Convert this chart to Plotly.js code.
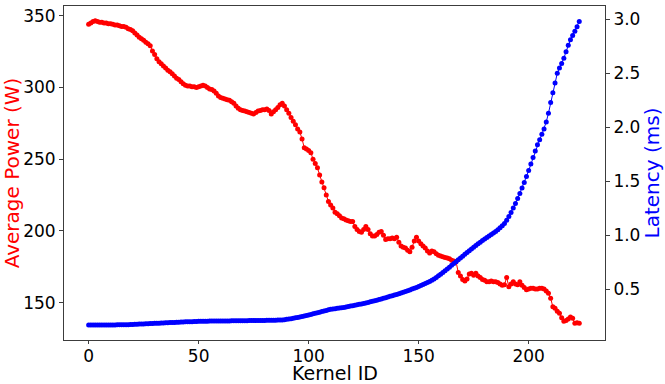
<!DOCTYPE html>
<html>
<head>
<meta charset="utf-8">
<script src="https://cdn.plot.ly/plotly-3.0.1.min.js"></script>
<style>html,body{margin:0;padding:0;background:#fff;}#chart{width:665px;height:384px;}</style>
</head>
<body>
<div id="chart"></div>
<script>
const powerW = [
344,345,346,346.5,346,345.5,345.5,345,345,344.5,
344.5,344,343.5,343.5,343,342.5,342.5,342,341,340.5,
339.5,338,336.5,335,334,333,331.5,330.5,329,325.5,
323,320,318,316.5,315,313.5,312,311,309.5,308,
306.5,305.5,304,302.5,301.5,301,301,300.5,300.5,300,
300.5,301,301.5,301,300,299,298.5,297.5,296,294,
293,292.5,292,291.5,291,290,289,287,285.5,284.5,
284,283.5,283,282.5,282,281.5,282.5,283.5,284,284.5,
284.5,285,284,281.5,283,284.5,286,288,289,287,
284.5,282,279,276.5,274,271,269,264,258,257,
256,254.5,250,247,244,239,234,230,225,220.5,
218,216,213,212,210.5,209,208.5,207.5,207,206.5,
206.5,203,201,199.5,199,201,203,201,198,196.5,
196.5,197.5,199,199.5,197,194,194.5,194.5,195,194.5,
195.5,192,189.5,188.5,188,186.5,185.5,188.5,193,195.5,
193,191,189.5,188,186,184.5,186,185.5,184,183,
182.5,182,181.5,181,180.5,179.5,179,178.5,171,168.5,
166,165,166.5,170,170.5,169,170.5,168.5,167.5,166,
165.5,164.5,164.5,165,164.5,164.5,164,163,162,162.5,
167.5,161,163,164.5,163,162.5,164.5,162,160.5,159,
159.5,160,160,159.5,159.5,160,160,159.5,158,156.5,
153,147,146,144,142.5,139.5,137,137.5,138.5,140,
139,135.5,136,135.5
];
const latencyMs = [
0.170,0.170,0.170,0.170,0.170,0.170,0.171,0.171,0.171,0.171,
0.171,0.171,0.171,0.172,0.172,0.172,0.172,0.173,0.173,0.174,
0.175,0.176,0.177,0.178,0.179,0.180,0.181,0.182,0.183,0.184,
0.185,0.186,0.187,0.188,0.189,0.190,0.191,0.192,0.193,0.194,
0.195,0.196,0.197,0.198,0.199,0.200,0.200,0.201,0.202,0.203,
0.204,0.204,0.205,0.205,0.205,0.206,0.206,0.206,0.207,0.207,
0.207,0.208,0.208,0.208,0.208,0.209,0.209,0.209,0.209,0.210,
0.210,0.210,0.210,0.211,0.211,0.211,0.211,0.212,0.212,0.212,
0.212,0.213,0.213,0.213,0.214,0.214,0.215,0.216,0.217,0.219,
0.222,0.225,0.228,0.232,0.236,0.240,0.244,0.248,0.253,0.258,
0.263,0.268,0.273,0.278,0.283,0.289,0.295,0.300,0.305,0.310,
0.315,0.318,0.321,0.324,0.327,0.330,0.333,0.337,0.341,0.345,
0.349,0.353,0.357,0.361,0.365,0.369,0.374,0.379,0.384,0.389,
0.394,0.399,0.405,0.411,0.417,0.423,0.429,0.435,0.441,0.447,
0.453,0.459,0.466,0.473,0.480,0.487,0.494,0.502,0.510,0.518,
0.527,0.536,0.545,0.554,0.563,0.573,0.583,0.596,0.610,0.625,
0.640,0.656,0.672,0.688,0.705,0.722,0.739,0.756,0.773,0.790,
0.807,0.824,0.841,0.858,0.874,0.890,0.906,0.922,0.937,0.952,
0.966,0.980,0.994,1.008,1.022,1.036,1.052,1.069,1.088,1.110,
1.140,1.175,1.212,1.252,1.294,1.340,1.388,1.438,1.490,1.545,
1.600,1.660,1.720,1.780,1.838,1.885,1.935,1.985,2.050,2.130,
2.230,2.320,2.410,2.500,2.550,2.590,2.640,2.700,2.760,2.810,
2.850,2.890,2.930,2.980
];
const kernelIds = powerW.map((_, i) => i);
const xTicks = [0, 50, 100, 150, 200];
const yTicks = [150, 200, 250, 300, 350];
const y2Ticks = [0.5, 1.0, 1.5, 2.0, 2.5, 3.0];
const y2TickText = ['0.5', '1.0', '1.5', '2.0', '2.5', '3.0'];
const xTitle = 'Kernel ID';

const FONT = 'DejaVu Sans, sans-serif';
const AX = 'rgb(60,60,60)';

const traces = [
  {
    x: kernelIds, y: powerW, type: 'scatter', mode: 'lines+markers',
    line: {color: 'red', width: 1}, marker: {color: 'red', size: 5},
    xaxis: 'x', yaxis: 'y', showlegend: false
  },
  {
    x: kernelIds, y: latencyMs, type: 'scatter', mode: 'lines+markers',
    line: {color: 'blue', width: 1}, marker: {color: 'blue', size: 5},
    xaxis: 'x', yaxis: 'y2', showlegend: false
  }
];

const layout = {
  width: 665, height: 384,
  margin: {l: 64, r: 60, t: 6, b: 44, pad: 0},
  paper_bgcolor: '#fff', plot_bgcolor: '#fff',
  font: {family: FONT, size: 17, color: '#000'},
  xaxis: {
    range: [-11.2, 234.7], tickvals: xTicks, showgrid: false, zeroline: false,
    showline: true, mirror: true, linecolor: AX, linewidth: 1,
    ticks: 'outside', ticklen: 3, tickcolor: AX, ticklabelstandoff: -2,
    tickfont: {family: FONT, size: 17, color: '#000'}
  },
  yaxis: {
    range: [123.9, 356.8], tickvals: yTicks, showgrid: false, zeroline: false,
    showline: true, linecolor: AX, linewidth: 1,
    ticks: 'outside', ticklen: 4, tickcolor: AX,
    tickfont: {family: FONT, size: 17, color: '#000'},
    title: {text: 'Average Power (W)', font: {family: FONT, size: 20, color: 'red'}, standoff: 6}
  },
  yaxis2: {
    range: [0.031, 3.123], tickvals: y2Ticks, ticktext: y2TickText, overlaying: 'y', side: 'right',
    showgrid: false, zeroline: false, showline: true, linecolor: AX, linewidth: 1,
    ticks: 'outside', ticklen: 4, tickcolor: AX,
    tickfont: {family: FONT, size: 17, color: '#000'},
    title: {text: 'Latency (ms)', font: {family: FONT, size: 20, color: 'blue'}, standoff: 4}
  },
  annotations: [{
    text: xTitle, xref: 'paper', yref: 'paper', x: 0.5, y: -0.062,
    xanchor: 'center', yanchor: 'top', showarrow: false, borderpad: 0,
    font: {family: FONT, size: 19, color: '#000'}
  }]
};

Plotly.newPlot('chart', traces, layout, {displayModeBar: false, staticPlot: true});
</script>
</body>
</html>
